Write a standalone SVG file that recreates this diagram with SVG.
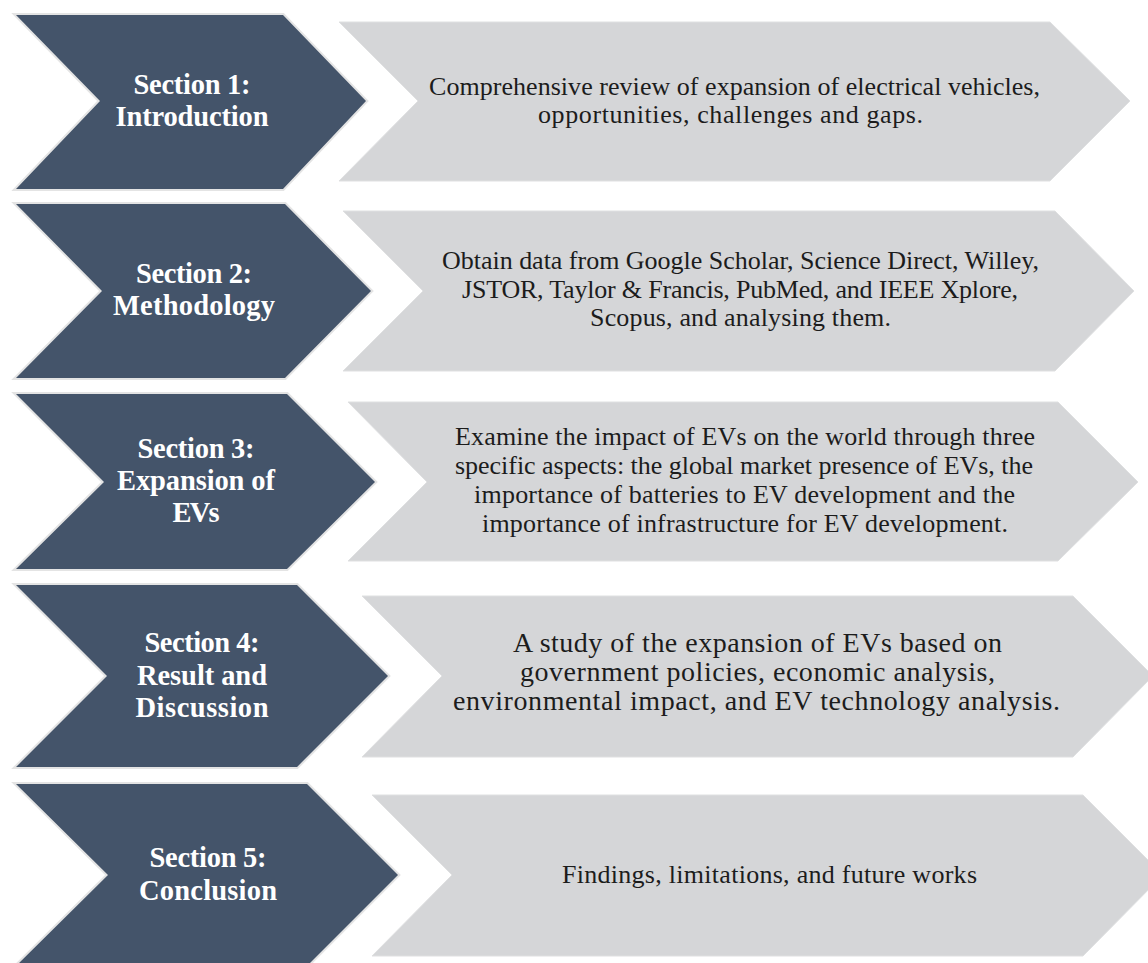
<svg xmlns="http://www.w3.org/2000/svg" width="1148" height="963" viewBox="0 0 1148 963">
<style>
.dark{fill:#44546a;stroke:#e4e4e4;stroke-width:4;paint-order:stroke;stroke-linejoin:miter}
.light{fill:#d5d6d8;stroke:#dfe0e1;stroke-width:1}
.h{font-weight:bold;font-size:28.5px;fill:#ffffff;text-anchor:middle}
.b{font-size:26px;fill:#1c1c1c;text-anchor:middle}
.b4{font-size:28px;fill:#1c1c1c;text-anchor:middle}
</style>
<rect width="1148" height="963" fill="#ffffff"/>
<g id="connectors"></g>
<g font-family="Liberation Serif, serif">
<g id="section1">
<polygon class="dark" points="16,15 283,15 366,101 283,189 16,189 100,101"/>
<text class="h" x="192" y="94" font-family="Liberation Serif, serif" textLength="117" lengthAdjust="spacing">Section 1:</text>
<text class="h" x="192" y="126" font-family="Liberation Serif, serif" textLength="153" lengthAdjust="spacing">Introduction</text>
</g>
<g id="desc1">
<polygon class="light" points="339,22 1050,22 1130,101 1050,181 339,181 418,101"/>
<text class="b" x="734.5" y="95" font-family="Liberation Serif, serif" textLength="611" lengthAdjust="spacing">Comprehensive review of expansion of electrical vehicles,</text>
<text class="b" x="730.5" y="123" font-family="Liberation Serif, serif" textLength="385" lengthAdjust="spacing">opportunities, challenges and gaps.</text>
</g>
<g id="section2">
<polygon class="dark" points="16,204 285,204 371,291 285,378 16,378 102,291"/>
<text class="h" x="194" y="283" font-family="Liberation Serif, serif" textLength="116" lengthAdjust="spacing">Section 2:</text>
<text class="h" x="194" y="315" font-family="Liberation Serif, serif" textLength="162" lengthAdjust="spacing">Methodology</text>
</g>
<g id="desc2">
<polygon class="light" points="343,211 1055,211 1134,291 1055,371 343,371 423,291"/>
<text class="b" x="740.5" y="269" font-family="Liberation Serif, serif" textLength="597" lengthAdjust="spacing">Obtain data from Google Scholar, Science Direct, Willey,</text>
<text class="b" x="740" y="298" font-family="Liberation Serif, serif" textLength="556" lengthAdjust="spacing">JSTOR, Taylor &amp; Francis, PubMed, and IEEE Xplore,</text>
<text class="b" x="740.5" y="326" font-family="Liberation Serif, serif" textLength="301" lengthAdjust="spacing">Scopus, and analysing them.</text>
</g>
<g id="section3">
<polygon class="dark" points="16,394 287,394 375,482 287,569 16,569 104,482"/>
<text class="h" x="196" y="458" font-family="Liberation Serif, serif" textLength="117" lengthAdjust="spacing">Section 3:</text>
<text class="h" x="196" y="490" font-family="Liberation Serif, serif" textLength="158" lengthAdjust="spacing">Expansion of</text>
<text class="h" x="196" y="522" font-family="Liberation Serif, serif" textLength="47" lengthAdjust="spacing">EVs</text>
</g>
<g id="desc3">
<polygon class="light" points="348,402 1058,402 1138,482 1058,561 348,561 427,482"/>
<text class="b" x="745" y="445" font-family="Liberation Serif, serif" textLength="580" lengthAdjust="spacing">Examine the impact of EVs on the world through three</text>
<text class="b" x="744" y="474" font-family="Liberation Serif, serif" textLength="578" lengthAdjust="spacing">specific aspects: the global market presence of EVs, the</text>
<text class="b" x="744.5" y="503" font-family="Liberation Serif, serif" textLength="541" lengthAdjust="spacing">importance of batteries to EV development and the</text>
<text class="b" x="745" y="532" font-family="Liberation Serif, serif" textLength="526" lengthAdjust="spacing">importance of infrastructure for EV development.</text>
</g>
<g id="section4">
<polygon class="dark" points="16,585 297,585 388,676 297,767 16,767 107,676"/>
<text class="h" x="202" y="652" font-family="Liberation Serif, serif" textLength="115" lengthAdjust="spacing">Section 4:</text>
<text class="h" x="202" y="685" font-family="Liberation Serif, serif" textLength="130" lengthAdjust="spacing">Result and</text>
<text class="h" x="202" y="717" font-family="Liberation Serif, serif" textLength="133" lengthAdjust="spacing">Discussion</text>
</g>
<g id="desc4">
<polygon class="light" points="362,596 1073,596 1153,676 1073,757 362,757 442,676"/>
<text class="b4" x="757.5" y="652" font-family="Liberation Serif, serif" textLength="489" lengthAdjust="spacing">A study of the expansion of EVs based on</text>
<text class="b4" x="757.5" y="681" font-family="Liberation Serif, serif" textLength="475" lengthAdjust="spacing">government policies, economic analysis,</text>
<text class="b4" x="756.5" y="710" font-family="Liberation Serif, serif" textLength="607" lengthAdjust="spacing">environmental impact, and EV technology analysis.</text>
</g>
<g id="section5">
<polygon class="dark" points="16,784 307,784 398,875 307,966 16,966 108,875"/>
<text class="h" x="208" y="867" font-family="Liberation Serif, serif" textLength="117" lengthAdjust="spacing">Section 5:</text>
<text class="h" x="208" y="900" font-family="Liberation Serif, serif" textLength="138" lengthAdjust="spacing">Conclusion</text>
</g>
<g id="desc5">
<polygon class="light" points="372,795 1083,795 1163,875 1083,956 372,956 452,875"/>
<text class="b" x="769.5" y="883" font-family="Liberation Serif, serif" textLength="415" lengthAdjust="spacing">Findings, limitations, and future works</text>
</g>
</g>
</svg>
